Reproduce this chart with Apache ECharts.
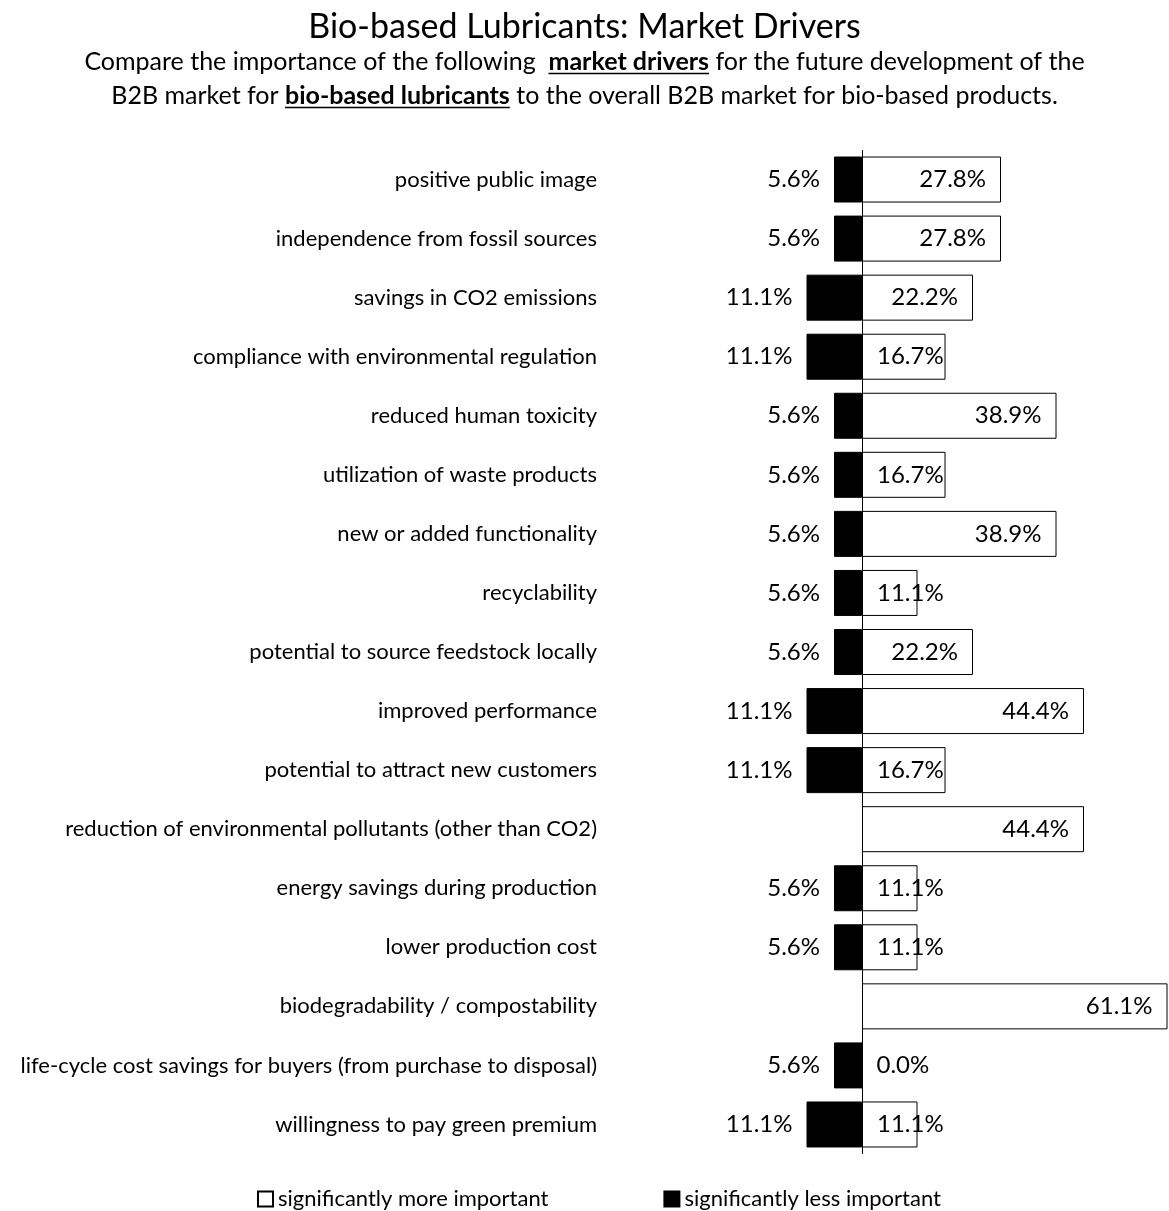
<!DOCTYPE html>
<html><head><meta charset="utf-8">
<script src="https://cdn.jsdelivr.net/npm/echarts@6/dist/echarts.min.js"></script>
<style>html,body{margin:0;padding:0;background:#fff}#c{width:1169px;height:1211px}</style>
</head><body><div id="c"></div>
<script>
const categories = [
 'positive public image',
 'independence from fossil sources',
 'savings in CO2 emissions',
 'compliance with environmental regulation',
 'reduced human toxicity',
 'utilization of waste products',
 'new or added functionality',
 'recyclability',
 'potential to source feedstock locally',
 'improved performance',
 'potential to attract new customers',
 'reduction of environmental pollutants (other than CO2)',
 'energy savings during production',
 'lower production cost',
 'biodegradability / compostability',
 'life-cycle cost savings for buyers (from purchase to disposal)',
 'willingness to pay green premium'
];
const moreImportant = [27.8,27.8,22.2,16.7,38.9,16.7,38.9,11.1,22.2,44.4,16.7,44.4,11.1,11.1,61.1,0.0,11.1];
const lessImportant = [5.6,5.6,11.1,11.1,5.6,5.6,5.6,5.6,5.6,11.1,11.1,null,5.6,5.6,null,5.6,11.1];
const seriesNames = ['significantly more important','significantly less important'];
const titleText = 'Bio-based Lubricants: Market Drivers';
const sub1 = ['Compare the importance of the following  ', 'market drivers', ' for the future development of the'];
const sub2 = ['B2B market for ', 'bio-based lubricants', ' to the overall B2B market for bio-based products.'];

const FONT = 'Lato';
const SUBSIZE = 25, SUBTOP = 45, SUBLH = 34, CX = 1169/2;
const ctx = document.createElement('canvas').getContext('2d');
function w(t, bold){ ctx.font = (bold?'bold ':'') + SUBSIZE + 'px ' + FONT; return ctx.measureText(t).width; }
function underline(parts, line){
  const total = w(parts[0]) + w(parts[1], true) + w(parts[2]);
  const x0 = CX - total/2 + w(parts[0]);
  const y = SUBTOP + SUBLH*line + 28.5;
  return {type:'line', shape:{x1:x0, y1:y, x2:x0 + w(parts[1], true), y2:y}, style:{stroke:'#000', lineWidth:1.5}};
}

const chart = echarts.init(document.getElementById('c'));
chart.setOption({
  animation:false,
  textStyle:{fontFamily:FONT,color:'#000'},
  title:[{
    text:titleText, left:'center', top:5,
    textStyle:{fontFamily:FONT,fontSize:34,fontWeight:'normal',color:'#000'}
  },{
    text: sub1[0] + '{b|' + sub1[1] + '}' + sub1[2] + '\n' + sub2[0] + '{b|' + sub2[1] + '}' + sub2[2],
    left:'center', top:SUBTOP, padding:0,
    textStyle:{fontFamily:FONT,fontSize:SUBSIZE,fontWeight:'normal',color:'#000',lineHeight:SUBLH,align:'center',
      rich:{b:{fontFamily:FONT,fontSize:SUBSIZE,fontWeight:'bold',color:'#000',lineHeight:SUBLH}}}
  }],
  graphic:[underline(sub1,0), underline(sub2,1)],
  legend:{
    data:seriesNames, top:1183, left:252, itemGap:115, itemWidth:15, itemHeight:15,
    textStyle:{fontFamily:FONT,fontSize:22,color:'#000'}, icon:'rect'
  },
  grid:{left:762,right:1,top:150,bottom:57,containLabel:false},
  xAxis:{type:'value',min:-20,max:61.2,show:false},
  yAxis:{type:'category',data:categories,inverse:true,
    axisLine:{show:false},axisTick:{show:false},splitLine:{show:false},
    axisLabel:{margin:165,fontFamily:FONT,fontSize:22,color:'#000'}},
  series:[
    {name:seriesNames[0],type:'bar',barWidth:46,barGap:'-100%',
      itemStyle:{color:'#fff',borderColor:'#000',borderWidth:1},
      data:moreImportant.map(v=>({value:v,label:{position:v>=20?'insideRight':'insideLeft'}})),
      label:{show:true,distance:15,fontFamily:FONT,fontSize:24,color:'#000',
        formatter:p=>p.value.toFixed(1)+'%'},
      markLine:{silent:true,symbol:'none',label:{show:false},
        lineStyle:{color:'#000',width:1,type:'solid'},data:[{xAxis:0}]}
    },
    {name:seriesNames[1],type:'bar',barWidth:46,barGap:'-100%',
      itemStyle:{color:'#000',borderColor:'#000',borderWidth:1},
      data:lessImportant.map(v=>v==null?'-':-v),
      label:{show:true,position:'left',distance:14,fontFamily:FONT,fontSize:24,color:'#000',
        formatter:p=>Math.abs(p.value).toFixed(1)+'%'}
    }
  ]
});
</script></body></html>
